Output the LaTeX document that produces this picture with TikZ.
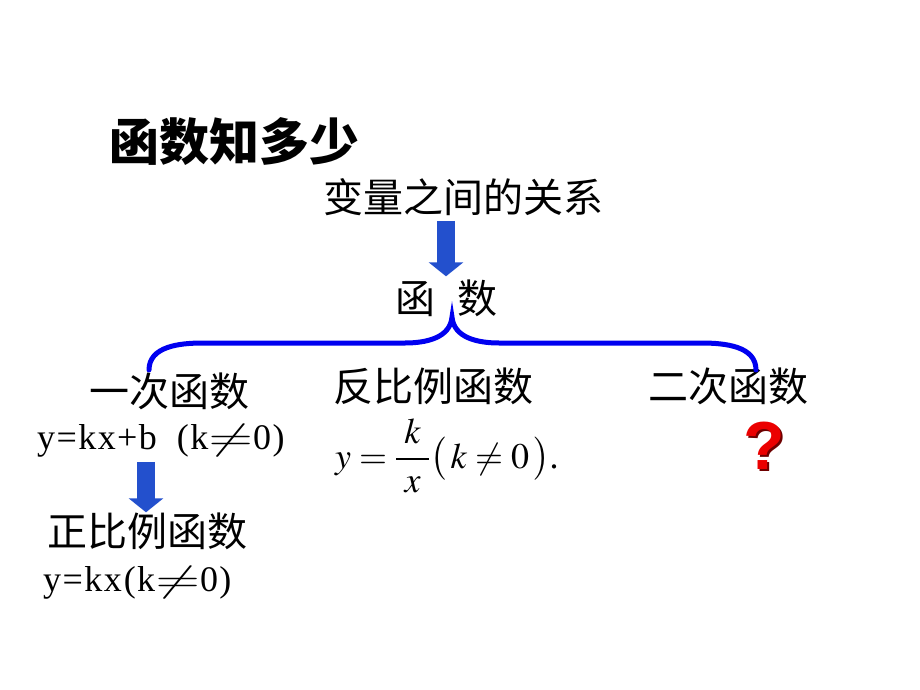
\documentclass[tikz,border=0pt]{standalone}
\usepackage{mathptmx}
\usepackage{fontspec}
\setmainfont{Liberation Serif}
\newfontfamily\cjk{Noto Sans CJK SC}
\newfontfamily\qfont{Liberation Sans}
\newfontfamily\latinw{Liberation Serif}[LetterSpace=4]
\newcommand\wneq{\scalebox{1.6}[1]{$\neq$}}
\usetikzlibrary{arrows.meta}
\definecolor{bracebl}{RGB}{0,0,240}
\definecolor{arrowbl}{RGB}{35,80,205}
\definecolor{qred}{RGB}{235,0,0}
\definecolor{qshadow}{RGB}{110,0,0}
\tikzset{
  zh/.style={font=\cjk\fontsize{40}{48}\selectfont, inner sep=0pt},
  formula/.style={font=\latinw\fontsize{36}{42}\selectfont, inner sep=0pt, anchor=base west},
  blockarrow/.style={draw=arrowbl, line width=18pt, -{Triangle[width=34pt,length=14pt]}, shorten <=5pt},
  bracepath/.style={draw=bracebl, line width=5pt, line cap=round},
  qstyle/.style={font=\qfont\bfseries\fontsize{68}{80}\selectfont, inner sep=0pt},
}
\begin{document}
\begin{tikzpicture}[x=1pt,y=-1pt]
		\useasboundingbox (0,0) rectangle (920,690);
		% headings
		\node[zh, font=\cjk\bfseries\fontsize{50}{60}\selectfont] (title) at (234,142) {函数知多少};
		\node[zh] (rel) at (463,197) {变量之间的关系};
		\node[zh] (fn) at (446,298) {函\hspace{22pt}数};
		% the three kinds
		\node[zh] (lin) at (169,391) {一次函数};
		\node[zh] (inv) at (433,386) {反比例函数};
		\node[zh] (quad) at (728,386) {二次函数};
		\node[formula] (linf) at (37,449) {y=kx+b\hspace{20pt}(k\wneq0)};
		\node[inner sep=0pt, anchor=base west, font=\fontsize{36}{42}\selectfont] (invf) at (335,468)
		{$y=\displaystyle\frac{\;k\;}{\;x\;}\bigl(\,k\neq0\,\bigr)$.};
		\node[qstyle, text=qshadow] (qshade) at (766,448) {?};
		\node[qstyle, text=qred] (qmark) at (764,446) {?};
		\node[zh] (prop) at (147,531) {正比例函数};
		\node[formula] (propf) at (43,591) {y=kx\hspace{2pt}(k\wneq0)};
		% brace
		\draw[bracepath] (149,370) to[out=90,in=180] (203,343) -- (405,343)
		to[out=0,in=-95] (452,317) to[out=-85,in=180] (499,343) -- (701,343)
		to[out=0,in=90] (756,370);
		% arrows
		\draw[blockarrow] (rel.south -| fn.north) -- ([yshift=3pt]fn.north);
		\draw[blockarrow] (linf.south -| 146,0) -- (prop.north -| 146,0);
\end{tikzpicture}
\end{document}
